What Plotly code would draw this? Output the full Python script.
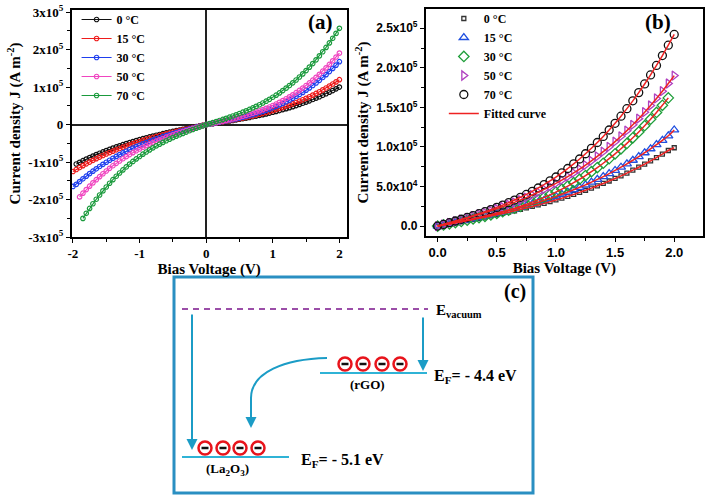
import plotly.graph_objects as go

# ---------------- Panel (a) data : J in units of 1e5 A m^-2 ----------------
V_a = [round(-2.0 + 0.05 * i, 2) for i in range(81)]
temps = ["0 °C", "15 °C", "30 °C", "50 °C", "70 °C"]

J_a_0 = [None, -1.051, -1.006, -0.962, -0.920, -0.879, -0.839, -0.801, -0.764, -0.728,
         -0.693, -0.660, -0.627, -0.595, -0.565, -0.535, -0.507, -0.479, -0.452, -0.426,
         -0.400, -0.376, -0.352, -0.329, -0.306, -0.284, -0.263, -0.242, -0.221, -0.201,
         -0.182, -0.162, -0.144, -0.125, -0.107, -0.089, -0.071, -0.053, -0.035, -0.018,
         0.0,
         0.014, 0.027, 0.041, 0.055, 0.069, 0.083, 0.098, 0.113, 0.128, 0.144,
         0.160, 0.176, 0.193, 0.211, 0.229, 0.248, 0.267, 0.287, 0.308, 0.330,
         0.353, 0.376, 0.401, 0.426, 0.453, 0.480, 0.509, 0.539, 0.570, 0.602,
         0.635, 0.670, 0.707, 0.744, 0.783, 0.824, 0.866, 0.910, 0.955, 1.002]
J_a_15 = [-1.251, -1.197, -1.145, -1.094, -1.046, -0.998, -0.953, -0.908, -0.866, -0.824,
          -0.784, -0.746, -0.708, -0.672, -0.637, -0.603, -0.570, -0.539, -0.508, -0.478,
          -0.450, -0.422, -0.395, -0.368, -0.343, -0.318, -0.294, -0.270, -0.247, -0.225,
          -0.203, -0.181, -0.160, -0.139, -0.119, -0.099, -0.079, -0.059, -0.039, -0.020,
          0.0,
          0.015, 0.030, 0.045, 0.061, 0.076, 0.092, 0.108, 0.125, 0.142, 0.159,
          0.177, 0.196, 0.216, 0.236, 0.257, 0.278, 0.301, 0.325, 0.349, 0.375,
          0.402, 0.430, 0.459, 0.490, 0.521, 0.555, 0.590, 0.626, 0.664, 0.703,
          0.744, 0.787, 0.832, 0.878, 0.927, 0.977, 1.030, 1.084, 1.141, 1.200]
J_a_30 = [-1.650, -1.594, -1.519, -1.446, -1.375, -1.307, -1.242, -1.179, -1.118, -1.060,
          -1.004, -0.950, -0.898, -0.849, -0.801, -0.755, -0.710, -0.668, -0.627, -0.588,
          -0.550, -0.514, -0.479, -0.445, -0.413, -0.381, -0.351, -0.322, -0.293, -0.266,
          -0.239, -0.213, -0.188, -0.163, -0.139, -0.115, -0.092, -0.069, -0.046, -0.023,
          0.0,
          0.016, 0.032, 0.048, 0.065, 0.082, 0.100, 0.118, 0.136, 0.156, 0.176,
          0.198, 0.220, 0.244, 0.269, 0.295, 0.323, 0.352, 0.383, 0.415, 0.450,
          0.486, 0.525, 0.566, 0.609, 0.654, 0.702, 0.752, 0.805, 0.860, 0.919,
          0.980, 1.044, 1.112, 1.183, 1.257, 1.334, 1.415, 1.500, 1.588, 1.680]
J_a_50 = [None, None, -1.930, -1.829, -1.733, -1.642, -1.554, -1.470, -1.389, -1.311,
          -1.237, -1.166, -1.098, -1.032, -0.970, -0.911, -0.854, -0.799, -0.747, -0.697,
          -0.650, -0.604, -0.561, -0.519, -0.480, -0.441, -0.405, -0.370, -0.336, -0.304,
          -0.272, -0.242, -0.213, -0.184, -0.157, -0.130, -0.103, -0.077, -0.051, -0.026,
          0.0,
          0.018, 0.036, 0.055, 0.074, 0.093, 0.113, 0.133, 0.154, 0.176, 0.200,
          0.224, 0.249, 0.276, 0.304, 0.334, 0.365, 0.399, 0.434, 0.471, 0.510,
          0.551, 0.595, 0.641, 0.690, 0.742, 0.796, 0.853, 0.913, 0.976, 1.043,
          1.112, 1.185, 1.262, 1.343, 1.427, 1.515, 1.607, 1.703, 1.803, 1.908]
J_a_70 = [None, None, None, -2.502, -2.366, -2.236, -2.111, -1.992, -1.878, -1.768,
          -1.664, -1.564, -1.469, -1.378, -1.291, -1.208, -1.130, -1.054, -0.983, -0.915,
          -0.850, -0.788, -0.730, -0.674, -0.620, -0.569, -0.521, -0.475, -0.430, -0.388,
          -0.347, -0.308, -0.270, -0.234, -0.198, -0.164, -0.130, -0.097, -0.064, -0.032,
          0.0,
          0.027, 0.055, 0.082, 0.110, 0.139, 0.168, 0.199, 0.230, 0.262, 0.296,
          0.331, 0.367, 0.405, 0.445, 0.487, 0.531, 0.577, 0.625, 0.676, 0.730,
          0.786, 0.846, 0.908, 0.974, 1.043, 1.115, 1.191, 1.271, 1.354, 1.442,
          1.534, 1.630, 1.730, 1.835, 1.945, 2.060, 2.180, 2.304, 2.435, 2.570]

a_ticks = [-3, -2, -1, 0, 1, 2, 3]
a_ticktext = ["-3x10<sup>5</sup>", "-2x10<sup>5</sup>", "-1x10<sup>5</sup>", "0",
              "1x10<sup>5</sup>", "2x10<sup>5</sup>", "3x10<sup>5</sup>"]

# ---------------- Panel (b) data ----------------
V_b = [round(0.05 * i, 2) for i in range(41)]
J_b_0 = [0, 0.014, 0.027, 0.041, 0.055, 0.069, 0.083, 0.098, 0.113, 0.128, 0.144, 0.160,
         0.176, 0.193, 0.211, 0.229, 0.248, 0.267, 0.287, 0.308, 0.330, 0.353, 0.376, 0.401,
         0.426, 0.453, 0.480, 0.509, 0.539, 0.570, 0.602, 0.635, 0.670, 0.707, 0.744, 0.783,
         0.824, 0.866, 0.910, 0.955, 0.990]
J_b_15 = [0, 0.015, 0.030, 0.045, 0.061, 0.076, 0.092, 0.108, 0.125, 0.142, 0.159, 0.177,
          0.196, 0.216, 0.236, 0.257, 0.278, 0.301, 0.325, 0.349, 0.375, 0.402, 0.430, 0.459,
          0.490, 0.521, 0.555, 0.590, 0.626, 0.664, 0.703, 0.744, 0.787, 0.832, 0.878, 0.927,
          0.977, 1.030, 1.084, 1.141, 1.215]
J_b_30 = [0, 0.014, 0.029, 0.044, 0.059, 0.074, 0.090, 0.107, 0.124, 0.142, 0.161, 0.182,
          0.203, 0.226, 0.250, 0.276, 0.303, 0.332, 0.363, 0.395, 0.430, 0.467, 0.506, 0.548,
          0.592, 0.638, 0.687, 0.739, 0.794, 0.852, 0.913, 0.977, 1.045, 1.116, 1.190, 1.269,
          1.351, 1.436, 1.526, 1.620, None]
J_b_50 = [0, 0.020, 0.040, 0.061, 0.082, 0.103, 0.125, 0.147, 0.170, 0.194, 0.219, 0.244,
          0.271, 0.300, 0.329, 0.360, 0.393, 0.427, 0.463, 0.500, 0.540, 0.582, 0.626, 0.672,
          0.720, 0.771, 0.825, 0.881, 0.940, 1.002, 1.067, 1.135, 1.206, 1.280, 1.358, 1.439,
          1.524, 1.613, 1.705, 1.802, 1.902]
J_b_70 = [0, 0.021, 0.043, 0.064, 0.086, 0.109, 0.132, 0.157, 0.182, 0.208, 0.236, 0.265,
          0.296, 0.329, 0.364, 0.400, 0.439, 0.481, 0.524, 0.571, 0.620, 0.672, 0.728, 0.786,
          0.848, 0.914, 0.983, 1.056, 1.133, 1.214, 1.299, 1.389, 1.484, 1.583, 1.687, 1.796,
          1.910, 2.030, 2.155, 2.286, 2.422]

b_ticks = [0, 0.5, 1.0, 1.5, 2.0, 2.5]
b_ticktext = ["0.0", "5.0x10<sup>4</sup>", "1.0x10<sup>5</sup>", "1.5x10<sup>5</sup>",
              "2.0x10<sup>5</sup>", "2.5x10<sup>5</sup>"]
b_xticks = [0, 0.5, 1.0, 1.5, 2.0]
b_xticktext = ["0.0", "0.5", "1.0", "1.5", "2.0"]

# ---------------- Panel (c) diagram elements (pixel frame) ----------------
rgo_e_x = [345, 363, 382, 400]
la_e_x = [205, 223, 240, 258]

SERIF = "Liberation Serif"
SANS = "Liberation Sans"

fig = go.Figure()

a_series = [J_a_0, J_a_15, J_a_30, J_a_50, J_a_70]
a_colors = ["#111111", "#ee1c1c", "#1f3fee", "#f045c0", "#1a9a3c"]
for name, J, c in zip(temps, a_series, a_colors):
    fig.add_trace(go.Scatter(
        x=V_a, y=J, mode="lines+markers", name=name,
        line=dict(color=c, width=1.2),
        marker=dict(symbol="circle-open", size=4.5, color=c, line=dict(width=1.2, color=c)),
        xaxis="x", yaxis="y", legend="legend"))

b_series = [J_b_0, J_b_15, J_b_30, J_b_50, J_b_70]
b_colors = ["#333333", "#1f4fe0", "#1f9e3a", "#b040c0", "#111111"]
b_symbols = ["square-open", "triangle-up-open", "diamond-open", "triangle-right-open", "circle-open"]
b_sizes = [4, 8, 8, 8, 8]
for name, J, c, s, sz in zip(temps, b_series, b_colors, b_symbols, b_sizes):
    fig.add_trace(go.Scatter(
        x=V_b, y=J, mode="markers", name=name,
        marker=dict(symbol=s, size=sz, color=c, line=dict(width=1.3, color=c)),
        xaxis="x2", yaxis="y2", legend="legend2"))
for i, J in enumerate(b_series):
    fig.add_trace(go.Scatter(
        x=V_b, y=J, mode="lines", name="Fitted curve", showlegend=(i == 0),
        line=dict(color="#ee2222", width=1.5, shape="spline"),
        xaxis="x2", yaxis="y2", legend="legend2"))

# diagram electrons
fig.add_trace(go.Scatter(
    x=rgo_e_x + la_e_x, y=[364] * 4 + [448] * 4, mode="markers", showlegend=False,
    marker=dict(symbol="circle-open", size=13, color="#e8141c", line=dict(width=2.5, color="#e8141c")),
    xaxis="x3", yaxis="y3", hoverinfo="skip"))
fig.add_trace(go.Scatter(
    x=rgo_e_x + la_e_x, y=[364] * 4 + [448] * 4, mode="markers", showlegend=False,
    marker=dict(symbol="line-ew", size=5, color="#111111", line=dict(width=2.5, color="#111111")),
    xaxis="x3", yaxis="y3", hoverinfo="skip"))

axis_common = dict(showline=True, mirror=True, linecolor="black", linewidth=1.5,
                   showgrid=False, ticks="outside", ticklen=4, tickwidth=1.2, tickcolor="black",
                   automargin=False)

fig.update_layout(
    template="none",
    width=709, height=498, margin=dict(l=0, r=0, t=0, b=0, pad=0), autosize=False,
    paper_bgcolor="white", plot_bgcolor="rgba(0,0,0,0)",
    xaxis=dict(domain=[0.101, 0.489], range=[-2.02, 2.11], anchor="y",
               tickvals=[-2, -1, 0, 1, 2], ticktext=["-2", "-1", "0", "1", "2"],
               minor=dict(dtick=0.5, ticks="outside", ticklen=3, tickcolor="black"),
               zeroline=True, zerolinecolor="#222222", zerolinewidth=1.5,
               tickfont=dict(family=SERIF, size=13, color="black", weight="bold"),
               title=dict(text="Bias Voltage (V)", standoff=0,
                          font=dict(family=SERIF, size=15, color="black", weight="bold")),
               **axis_common),
    yaxis=dict(domain=[0.524, 0.980], range=[-3.0, 3.06], anchor="x",
               tickvals=a_ticks, ticktext=a_ticktext,
               minor=dict(dtick=0.5, ticks="outside", ticklen=3, tickcolor="black"),
               zeroline=True, zerolinecolor="#222222", zerolinewidth=1.5,
               tickfont=dict(family=SERIF, size=13, color="black", weight="bold"),
               title=dict(text="Current density J (A m<sup>-2</sup>)", standoff=4,
                          font=dict(family=SERIF, size=15, color="black", weight="bold")),
               **axis_common),
    xaxis2=dict(domain=[0.6004, 0.9915], range=[-0.101, 2.243], anchor="y2",
                tickvals=b_xticks, ticktext=b_xticktext, zeroline=False,
                minor=dict(dtick=0.25, ticks="outside", ticklen=3, tickcolor="black"),
                tickfont=dict(family=SANS, size=13, color="black", weight="bold"),
                title=dict(text="Bias Voltage (V)", standoff=0,
                           font=dict(family=SERIF, size=15, color="black", weight="bold")),
                **axis_common),
    yaxis2=dict(domain=[0.526, 0.982], range=[-0.126, 2.744], anchor="x2",
                tickvals=b_ticks, ticktext=b_ticktext, zeroline=False,
                minor=dict(dtick=0.25, ticks="outside", ticklen=3, tickcolor="black"),
                tickfont=dict(family=SANS, size=12, color="black", weight="bold"),
                title=dict(text="Current density J (A m<sup>-2</sup>)", standoff=4,
                           font=dict(family=SERIF, size=15, color="black", weight="bold")),
                **axis_common),
    xaxis3=dict(domain=[0, 1], range=[0, 709], anchor="y3", visible=False, fixedrange=True,
                automargin=False),
    yaxis3=dict(domain=[0, 1], range=[498, 0], anchor="x3", visible=False, fixedrange=True,
                automargin=False),
    legend=dict(x=0.108, y=0.99, xanchor="left", yanchor="top", bgcolor="rgba(0,0,0,0)",
                font=dict(family=SERIF, size=12, color="black", weight="bold"),
                itemwidth=30, tracegroupgap=0),
    legend2=dict(x=0.626, y=0.992, xanchor="left", yanchor="top", bgcolor="rgba(0,0,0,0)",
                 font=dict(family=SERIF, size=12, color="black", weight="bold"),
                 itemwidth=30, tracegroupgap=0),
)

ARROW = "#1b9cc6"
LEVEL = "#2fb3d6"
shapes = [
    dict(type="rect", x0=174, y0=277, x1=533, y1=493, line=dict(color="#2a8fc2", width=3)),
    dict(type="line", x0=182, y0=309, x1=428, y1=309, line=dict(color="#9b4ea8", width=2, dash="6px,5px")),
    dict(type="line", x0=320, y0=373, x1=427, y1=373, line=dict(color=LEVEL, width=2)),
    dict(type="line", x0=182, y0=457, x1=289, y1=457, line=dict(color=LEVEL, width=2)),
    dict(type="path", path="M 327,358 C 285,359 251,372 251,398 L 251,420",
         line=dict(color=ARROW, width=2)),
]
for s in shapes:
    s.update(xref="x3", yref="y3", layer="above")
fig.update_layout(shapes=shapes)

ann = [
    dict(x=320, y=22, text="<b>(a)</b>", font=dict(family=SERIF, size=21, color="black")),
    dict(x=658, y=22, text="<b>(b)</b>", font=dict(family=SERIF, size=21, color="black")),
    dict(x=515, y=291, text="<b>(c)</b>", font=dict(family=SERIF, size=20, color="black")),
    dict(x=434, y=311, text="<b>E<sub>vacuum</sub></b>", xanchor="left",
         font=dict(family=SERIF, size=15, color="black")),
    dict(x=432, y=376, text="<b>E<sub>F</sub>= - 4.4 eV</b>", xanchor="left",
         font=dict(family=SERIF, size=16, color="black")),
    dict(x=299, y=460, text="<b>E<sub>F</sub>= - 5.1 eV</b>", xanchor="left",
         font=dict(family=SERIF, size=16, color="black")),
    dict(x=367, y=384, text="<b>(rGO)</b>", font=dict(family=SERIF, size=13, color="black")),
    dict(x=227, y=469, text="<b>(La<sub>2</sub>O<sub>3</sub>)</b>", font=dict(family=SERIF, size=13, color="black")),
]
for a in ann:
    a.update(xref="x3", yref="y3", showarrow=False)
arrows = [
    dict(x=192, y=450, ax=192, ay=313),
    dict(x=423, y=371, ax=423, ay=316),
    dict(x=251, y=428, ax=251, ay=416),
]
for a in arrows:
    a.update(xref="x3", yref="y3", axref="x3", ayref="y3", text="", showarrow=True,
             arrowhead=2, arrowsize=1.1, arrowwidth=2, arrowcolor=ARROW)
fig.update_layout(annotations=ann + arrows)

fig.write_html("out.html", config={"displayModeBar": False},
               post_script="document.body.style.margin='0px';document.body.style.padding='0px';")
